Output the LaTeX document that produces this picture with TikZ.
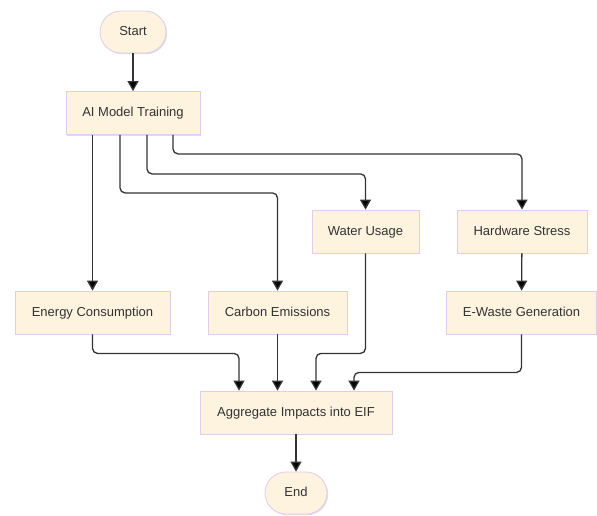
\documentclass[tikz,border=0pt]{standalone}
\usepackage{fontspec}
\setmainfont{Liberation Sans}
\usetikzlibrary{arrows.meta}
\usetikzlibrary{shadows}

\definecolor{boxfill}{HTML}{FDF3DF}
\definecolor{boxline}{HTML}{E3CBEE}
\definecolor{ink}{HTML}{333333}

\begin{document}
\begin{tikzpicture}[x=1pt, y=-1pt,
    every node/.style={font=\fontsize{13}{15}\selectfont, text=ink},
    box/.style={draw=boxline, fill=boxfill, line width=0.8pt, minimum height=43pt,
        text height=9.5pt, text depth=2.5pt,
        drop shadow={shadow xshift=1.2pt, shadow yshift=-1.2pt, opacity=0.25}},
    term/.style={box, rounded corners=21pt, minimum height=42pt},
    flow/.style={draw=ink, line width=1.3pt, rounded corners=5pt,
        -{Triangle[width=11pt,length=10pt,fill=black]}}]
            \useasboundingbox (0,0) rectangle (597,515);

            \node[term, minimum width=66pt] (start) at (133,32) {Start};
            \node[box, minimum width=134pt] (train) at (133,113) {AI Model Training};
            \node[box, minimum width=107pt] (water) at (365.5,231.5) {Water Usage};
            \node[box, minimum width=130pt] (stress) at (522,231.5) {Hardware Stress};
            \node[box, minimum width=155pt] (energy) at (92.5,312.5) {Energy Consumption};
            \node[box, minimum width=139pt] (carbon) at (277.5,312.5) {Carbon Emissions};
            \node[box, minimum width=150pt] (ewaste) at (521.5,312.5) {E-Waste Generation};
            \node[box, minimum width=192pt] (eif) at (296,412.5) {Aggregate Impacts into EIF};
            \node[term, minimum width=62pt] (end) at (296,493) {End};

            \draw[flow] (start) -- (train);
            \draw[flow] (train.south -| energy.north) -- (energy.north);
            \draw[flow] ([xshift=-13pt]train.south) -- ++(0,58) -| (carbon.north);
            \draw[flow] ([xshift=14pt]train.south) -- ++(0,39) -| (water.north);
            \draw[flow] ([xshift=40pt]train.south) -- ++(0,19) -| (stress.north);
            \draw[flow] (stress) -- (ewaste);

            \draw[flow] (energy.south) -- ++(0,19) -| ([xshift=-57pt]eif.north);
            \draw[flow] (carbon.south) -- (carbon.south |- eif.north);
            \draw[flow] (water.south) -- ++(0,100) -| ([xshift=20pt]eif.north);
            \draw[flow] (ewaste.south) -- ++(0,38) -| ([xshift=58pt]eif.north);
            \draw[flow] (eif) -- (end);
        \end{tikzpicture}
\end{document}
